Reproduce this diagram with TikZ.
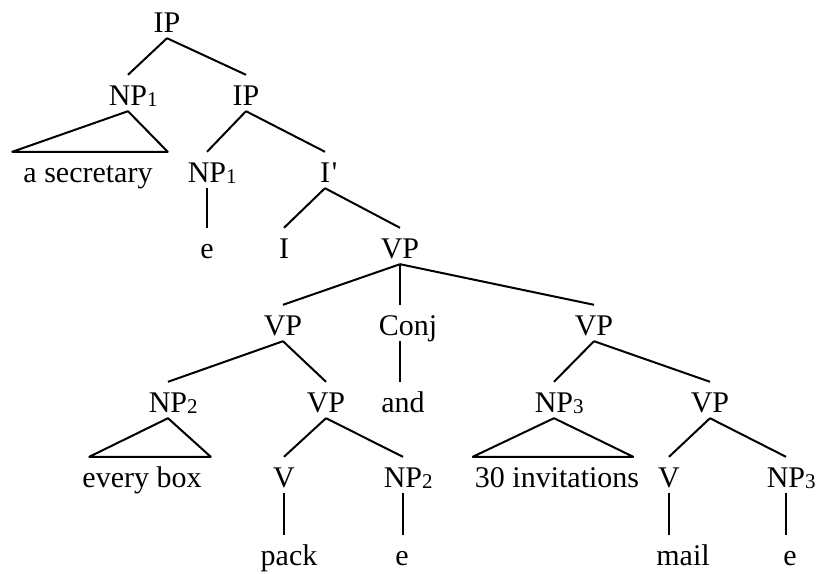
\documentclass[tikz,border=0pt]{standalone}
\usepackage{fontspec}
\setmainfont{Liberation Serif}
\newcommand{\idx}[1]{\rlap{\raisebox{-1pt}{\fontsize{21}{21}\selectfont #1}}}

\begin{document}
\begin{tikzpicture}[x=1pt, y=-1pt,
  every node/.style={font=\fontsize{30}{35}\selectfont, anchor=base, text height=24pt, text depth=0pt, inner xsep=0pt, inner ysep=6pt},
  branch/.style={line width=2pt}]
  \useasboundingbox (0,0) rectangle (822,573);

  % Top: IP with the raised subject
  \node (ip) at (167,32) {IP};
  \node (np1) at (128,105) {NP\idx{1}};
  \node (ipb) at (246,105) {IP};
  \node (secr) at (88,182) {a secretary};
  \node (np1b) at (207,182) {NP\idx{1}};
  \node (ibar) at (325,182) {I\rlap{\kern2pt\textquotesingle}};
  \node (e1) at (207,258) {e};
  \node (infl) at (284,258) {I};
  \node (vp) at (400,258) {VP};

  % Coordinated VPs
  \node (vpa) at (283,335) {VP};
  \node (conj) at (408,335) {Conj};
  \node (vpb) at (594,335) {VP};
  \node (np2) at (168,412) {NP\idx{2}};
  \node (vpc) at (326,412) {VP};
  \node (and) at (403,412) {and};
  \node (np3) at (554,412) {NP\idx{3}};
  \node (vpd) at (710,412) {VP};

  % Leaves
  \node (every) at (142,487) {every box};
  \node (v1) at (284,487) {V};
  \node (np2b) at (403,487) {NP\idx{2}};
  \node (inv) at (557,487) {30 invitations};
  \node (v2) at (669,487) {V};
  \node (np3b) at (786,487) {NP\idx{3}};
  \node (pack) at (289,565) {pack};
  \node (e2) at (402,565) {e};
  \node (mail) at (683,565) {mail};
  \node (e3) at (790,565) {e};

  % Branches
  \foreach \a/\b in {ip/np1, ip/ipb, ipb/np1b, ipb/ibar, ibar/infl, ibar/vp,
                     vp/vpa, vp/vpb, vpa/np2, vpa/vpc, vpb/np3, vpb/vpd,
                     vpc/v1, vpc/np2b, vpd/v2, vpd/np3b}
    \draw[branch] (\a.south) -- (\b.north);
  \foreach \a/\b in {np1b/e1, v1/pack, np2b/e2, v2/mail, np3b/e3}
    \draw[branch] (\a.south) -- (\a.south |- \b.north);
  \draw[branch] (vp.south) -- (vp.south |- conj.north);
  \draw[branch] (vp.south |- conj.south) -- (vp.south |- and.north);

  % Triangles
  \draw[branch, line join=round] (np1.south) -- ([xshift=-11pt]secr.north west) -- ([xshift=15pt]secr.north east) -- cycle;
  \draw[branch, line join=round] (np2.south) -- ([xshift=7pt]every.north west) -- ([xshift=9pt]every.north east) -- cycle;
  \draw[branch, line join=round] (np3.south) -- ([xshift=-2pt]inv.north west) -- ([xshift=-6pt]inv.north east) -- cycle;
\end{tikzpicture}
\end{document}
